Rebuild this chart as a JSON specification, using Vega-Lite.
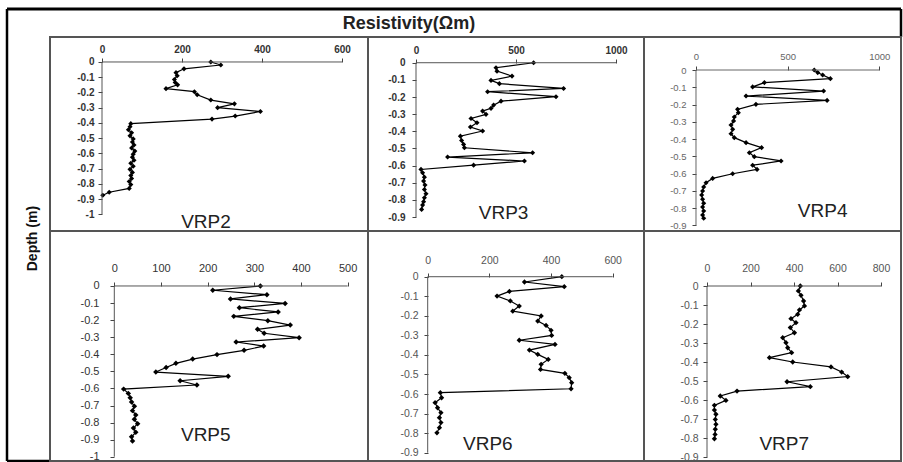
{
  "$schema": "https://vega.github.io/schema/vega-lite/v6.json",
  "padding": {"left": 5, "top": 7, "right": 2, "bottom": 1},
  "background": "white",
  "columns": 4,
  "spacing": 0,
  "bounds": "flush",
  "align": "each",
  "config": {
    "view": {"stroke": "#555", "strokeWidth": 2},
    "font": "Liberation Sans",
    "axis": {"domain": false, "grid": false, "title": null, "tickColor": "#444", "tickSize": 4, "tickCount": 20, "labelFont": "Liberation Sans", "labelOverlap": false, "labelFlush": false, "labelBound": false, "labelExpr": "toString(datum.value)"}
  },
  "datasets": {
    "v2": [
      {"d": 0, "r": 272}, {"d": -0.02, "r": 297}, {"d": -0.045, "r": 205}, {"d": -0.07, "r": 185}, {"d": -0.09, "r": 188},
      {"d": -0.115, "r": 181}, {"d": -0.135, "r": 183}, {"d": -0.15, "r": 189}, {"d": -0.175, "r": 160}, {"d": -0.195, "r": 231},
      {"d": -0.215, "r": 238}, {"d": -0.25, "r": 272}, {"d": -0.275, "r": 331}, {"d": -0.3, "r": 289}, {"d": -0.325, "r": 396},
      {"d": -0.355, "r": 333}, {"d": -0.375, "r": 275}, {"d": -0.405, "r": 72}, {"d": -0.425, "r": 70}, {"d": -0.445, "r": 66},
      {"d": -0.465, "r": 74}, {"d": -0.485, "r": 70}, {"d": -0.505, "r": 78}, {"d": -0.525, "r": 76}, {"d": -0.545, "r": 80},
      {"d": -0.565, "r": 74}, {"d": -0.585, "r": 82}, {"d": -0.605, "r": 78}, {"d": -0.625, "r": 76}, {"d": -0.645, "r": 80},
      {"d": -0.665, "r": 72}, {"d": -0.685, "r": 78}, {"d": -0.705, "r": 70}, {"d": -0.725, "r": 76}, {"d": -0.745, "r": 72},
      {"d": -0.765, "r": 74}, {"d": -0.785, "r": 68}, {"d": -0.805, "r": 72}, {"d": -0.83, "r": 68}, {"d": -0.855, "r": 18},
      {"d": -0.875, "r": 2}
    ],
    "v3": [
      {"d": 0, "r": 588}, {"d": -0.029, "r": 400}, {"d": -0.049, "r": 405}, {"d": -0.078, "r": 480}, {"d": -0.103, "r": 375},
      {"d": -0.122, "r": 417}, {"d": -0.15, "r": 738}, {"d": -0.169, "r": 358}, {"d": -0.198, "r": 700}, {"d": -0.224, "r": 425},
      {"d": -0.247, "r": 388}, {"d": -0.266, "r": 375}, {"d": -0.282, "r": 333}, {"d": -0.301, "r": 350}, {"d": -0.325, "r": 275},
      {"d": -0.35, "r": 305}, {"d": -0.375, "r": 272}, {"d": -0.398, "r": 333}, {"d": -0.428, "r": 222}, {"d": -0.453, "r": 228},
      {"d": -0.476, "r": 238}, {"d": -0.496, "r": 242}, {"d": -0.525, "r": 583}, {"d": -0.55, "r": 158}, {"d": -0.573, "r": 542},
      {"d": -0.597, "r": 288}, {"d": -0.622, "r": 25}, {"d": -0.641, "r": 33}, {"d": -0.667, "r": 42}, {"d": -0.69, "r": 38},
      {"d": -0.713, "r": 45}, {"d": -0.739, "r": 42}, {"d": -0.764, "r": 50}, {"d": -0.787, "r": 42}, {"d": -0.81, "r": 38},
      {"d": -0.83, "r": 33}, {"d": -0.855, "r": 28}
    ],
    "v4": [
      {"d": 0, "r": 645}, {"d": -0.015, "r": 664}, {"d": -0.029, "r": 691}, {"d": -0.05, "r": 733}, {"d": -0.073, "r": 373},
      {"d": -0.098, "r": 309}, {"d": -0.122, "r": 696}, {"d": -0.151, "r": 273}, {"d": -0.176, "r": 715}, {"d": -0.199, "r": 327},
      {"d": -0.228, "r": 227}, {"d": -0.247, "r": 231}, {"d": -0.272, "r": 209}, {"d": -0.295, "r": 205}, {"d": -0.319, "r": 191},
      {"d": -0.344, "r": 200}, {"d": -0.369, "r": 191}, {"d": -0.392, "r": 209}, {"d": -0.421, "r": 273}, {"d": -0.45, "r": 358},
      {"d": -0.479, "r": 291}, {"d": -0.502, "r": 318}, {"d": -0.527, "r": 464}, {"d": -0.552, "r": 309}, {"d": -0.576, "r": 333},
      {"d": -0.601, "r": 200}, {"d": -0.628, "r": 91}, {"d": -0.653, "r": 55}, {"d": -0.678, "r": 42}, {"d": -0.701, "r": 36},
      {"d": -0.724, "r": 31}, {"d": -0.749, "r": 36}, {"d": -0.772, "r": 42}, {"d": -0.794, "r": 36}, {"d": -0.817, "r": 42},
      {"d": -0.84, "r": 36}, {"d": -0.859, "r": 42}
    ],
    "v5": [
      {"d": 0, "r": 313}, {"d": -0.025, "r": 211}, {"d": -0.051, "r": 327}, {"d": -0.076, "r": 249}, {"d": -0.102, "r": 366},
      {"d": -0.127, "r": 268}, {"d": -0.152, "r": 351}, {"d": -0.178, "r": 256}, {"d": -0.203, "r": 329}, {"d": -0.229, "r": 377},
      {"d": -0.254, "r": 307}, {"d": -0.277, "r": 321}, {"d": -0.303, "r": 396}, {"d": -0.328, "r": 261}, {"d": -0.352, "r": 320},
      {"d": -0.377, "r": 278}, {"d": -0.402, "r": 220}, {"d": -0.428, "r": 168}, {"d": -0.453, "r": 132}, {"d": -0.477, "r": 111},
      {"d": -0.504, "r": 89}, {"d": -0.529, "r": 244}, {"d": -0.555, "r": 141}, {"d": -0.58, "r": 177}, {"d": -0.604, "r": 20},
      {"d": -0.629, "r": 30}, {"d": -0.654, "r": 34}, {"d": -0.68, "r": 37}, {"d": -0.705, "r": 43}, {"d": -0.73, "r": 39},
      {"d": -0.756, "r": 46}, {"d": -0.781, "r": 43}, {"d": -0.807, "r": 50}, {"d": -0.832, "r": 41}, {"d": -0.857, "r": 46},
      {"d": -0.883, "r": 37}, {"d": -0.908, "r": 39}
    ],
    "v6": [
      {"d": 0, "r": 435}, {"d": -0.027, "r": 314}, {"d": -0.051, "r": 443}, {"d": -0.075, "r": 265}, {"d": -0.099, "r": 225},
      {"d": -0.124, "r": 268}, {"d": -0.15, "r": 297}, {"d": -0.176, "r": 276}, {"d": -0.201, "r": 368}, {"d": -0.227, "r": 357},
      {"d": -0.249, "r": 384}, {"d": -0.274, "r": 400}, {"d": -0.3, "r": 402}, {"d": -0.325, "r": 297}, {"d": -0.346, "r": 413},
      {"d": -0.375, "r": 330}, {"d": -0.397, "r": 357}, {"d": -0.423, "r": 391}, {"d": -0.448, "r": 368}, {"d": -0.474, "r": 366},
      {"d": -0.494, "r": 445}, {"d": -0.516, "r": 459}, {"d": -0.542, "r": 467}, {"d": -0.573, "r": 465}, {"d": -0.593, "r": 41},
      {"d": -0.619, "r": 45}, {"d": -0.644, "r": 24}, {"d": -0.67, "r": 32}, {"d": -0.695, "r": 43}, {"d": -0.721, "r": 38},
      {"d": -0.746, "r": 43}, {"d": -0.772, "r": 38}, {"d": -0.798, "r": 30}
    ],
    "v7": [
      {"d": 0, "r": 429}, {"d": -0.026, "r": 420}, {"d": -0.049, "r": 432}, {"d": -0.079, "r": 444}, {"d": -0.105, "r": 448},
      {"d": -0.126, "r": 425}, {"d": -0.149, "r": 417}, {"d": -0.172, "r": 386}, {"d": -0.193, "r": 409}, {"d": -0.219, "r": 383},
      {"d": -0.246, "r": 402}, {"d": -0.272, "r": 348}, {"d": -0.298, "r": 363}, {"d": -0.325, "r": 371}, {"d": -0.351, "r": 389},
      {"d": -0.377, "r": 287}, {"d": -0.4, "r": 394}, {"d": -0.426, "r": 570}, {"d": -0.453, "r": 619}, {"d": -0.477, "r": 647},
      {"d": -0.504, "r": 368}, {"d": -0.53, "r": 475}, {"d": -0.553, "r": 138}, {"d": -0.579, "r": 61}, {"d": -0.602, "r": 87},
      {"d": -0.628, "r": 34}, {"d": -0.653, "r": 34}, {"d": -0.675, "r": 41}, {"d": -0.702, "r": 38}, {"d": -0.728, "r": 41},
      {"d": -0.754, "r": 38}, {"d": -0.781, "r": 37}, {"d": -0.804, "r": 34}
    ]
  },
  "concat": [
    {
      "width": 43, "height": 28, "view": {"stroke": null}, "data": {"values": [{}]},
      "layer": [
        {"mark": {"type": "rule", "color": "black", "strokeWidth": 2.5}, "encoding": {"x": {"datum": 0, "type": "quantitative", "scale": {"domain": [0, 1]}, "axis": null}, "y": {"datum": 0, "type": "quantitative", "scale": {"domain": [0, 1]}, "axis": null}, "y2": {"datum": 1}}},
        {"mark": {"type": "rule", "color": "black", "strokeWidth": 3}, "encoding": {"x": {"datum": 0, "type": "quantitative", "scale": {"domain": [0, 1]}, "axis": null}, "x2": {"datum": 1}, "y": {"datum": 1, "type": "quantitative", "scale": {"domain": [0, 1]}, "axis": null}}}
      ]
    },
    {
      "width": 318, "height": 28, "view": {"stroke": null}, "data": {"values": [{}]},
      "mark": {"type": "rule", "color": "black", "strokeWidth": 3},
      "encoding": {"x": {"datum": 0, "type": "quantitative", "scale": {"domain": [0, 1]}, "axis": null}, "x2": {"datum": 1}, "y": {"datum": 1, "type": "quantitative", "scale": {"domain": [0, 1]}, "axis": null}}
    },
    {
      "width": 276, "height": 28, "view": {"stroke": null},
      "layer": [
        {"data": {"values": [{}]}, "mark": {"type": "rule", "color": "black", "strokeWidth": 3}, "encoding": {"x": {"datum": 0, "type": "quantitative", "scale": {"domain": [0, 1]}, "axis": null}, "x2": {"datum": 1}, "y": {"datum": 1, "type": "quantitative", "scale": {"domain": [0, 1]}, "axis": null}}},
        {"data": {"values": [{"t": "Resistivity(Ωm)"}]}, "mark": {"type": "text", "fontSize": 18, "fontWeight": "bold", "font": "Liberation Sans", "color": "#222"}, "encoding": {"x": {"datum": 0.1486, "type": "quantitative", "scale": {"domain": [0, 1]}, "axis": null}, "y": {"datum": 0.45, "type": "quantitative", "scale": {"domain": [0, 1]}, "axis": null}, "text": {"field": "t"}}}
      ]
    },
    {
      "width": 257, "height": 28, "view": {"stroke": null}, "data": {"values": [{}]},
      "layer": [
        {"mark": {"type": "rule", "color": "black", "strokeWidth": 3}, "encoding": {"x": {"datum": 0, "type": "quantitative", "scale": {"domain": [0, 1]}, "axis": null}, "x2": {"datum": 1}, "y": {"datum": 1, "type": "quantitative", "scale": {"domain": [0, 1]}, "axis": null}}},
        {"mark": {"type": "rule", "color": "black", "strokeWidth": 2.5}, "encoding": {"x": {"datum": 1, "type": "quantitative", "scale": {"domain": [0, 1]}, "axis": null}, "y": {"datum": 0, "type": "quantitative", "scale": {"domain": [0, 1]}, "axis": null}, "y2": {"datum": 1}}}
      ]
    },
    {
      "width": 43, "height": 194, "view": {"stroke": null}, "data": {"values": [{}]},
      "mark": {"type": "rule", "color": "black", "strokeWidth": 2.5},
      "encoding": {"x": {"datum": 0, "type": "quantitative", "scale": {"domain": [0, 1]}, "axis": null}, "y": {"datum": 0, "type": "quantitative", "scale": {"domain": [0, 1]}, "axis": null}, "y2": {"datum": 1}}
    },
    {
      "width": 318, "height": 194,
      "layer": [
        {
          "data": {"name": "v2"},
          "mark": {"type": "line", "color": "black", "strokeWidth": 1.2, "point": {"shape": "diamond", "filled": true, "size": 26, "color": "black"}},
          "encoding": {
            "x": {"field": "r", "type": "quantitative", "scale": {"domain": [-130, 665], "nice": false, "zero": false},
              "axis": {"orient": "top", "values": [0, 200, 400, 600], "tickCount": 20, "offset": -25, "labelPadding": 4, "labelFontSize": 10, "labelFontWeight": "bold", "labelColor": "#333", "labelOverlap": false}},
            "y": {"field": "d", "type": "quantitative", "scale": {"domain": [-1.1097, 0.164], "nice": false, "zero": false},
              "axis": {"orient": "left", "values": [0, -0.1, -0.2, -0.3, -0.4, -0.5, -0.6, -0.7, -0.8, -0.9, -1], "tickCount": 20, "offset": -52, "labelPadding": 4, "labelFontSize": 10, "labelFontWeight": "bold", "labelColor": "#333", "labelOverlap": false}},
            "order": {"field": "d", "sort": "descending"}
          }
        },
        {"data": {"values": [{}]}, "mark": {"type": "rule", "color": "#555", "strokeWidth": 1}, "encoding": {"x": {"datum": 0, "type": "quantitative"}, "x2": {"datum": 600}, "y": {"datum": 0, "type": "quantitative"}}},
        {"data": {"values": [{}]}, "mark": {"type": "rule", "color": "#555", "strokeWidth": 1}, "encoding": {"x": {"datum": 0, "type": "quantitative"}, "y": {"datum": 0, "type": "quantitative"}, "y2": {"datum": -1}}},
        {"data": {"values": [{"t": "VRP2"}]}, "mark": {"type": "text", "fontSize": 19, "color": "#222", "font": "Liberation Sans"}, "encoding": {"x": {"datum": 260, "type": "quantitative"}, "y": {"datum": -1.05, "type": "quantitative"}, "text": {"field": "t"}}}
      ]
    },
    {
      "width": 276, "height": 194,
      "layer": [
        {
          "data": {"name": "v3"},
          "mark": {"type": "line", "color": "black", "strokeWidth": 1.2, "point": {"shape": "diamond", "filled": true, "size": 26, "color": "black"}},
          "encoding": {
            "x": {"field": "r", "type": "quantitative", "scale": {"domain": [-240, 1140], "nice": false, "zero": false},
              "axis": {"orient": "top", "values": [0, 500, 1000], "tickCount": 20, "offset": -26, "labelPadding": 4, "labelFontSize": 10, "labelFontWeight": "bold", "labelColor": "#333", "labelOverlap": false}},
            "y": {"field": "d", "type": "quantitative", "scale": {"domain": [-0.981, 0.15], "nice": false, "zero": false},
              "axis": {"orient": "left", "values": [0, -0.1, -0.2, -0.3, -0.4, -0.5, -0.6, -0.7, -0.8, -0.9], "tickCount": 20, "offset": -48, "labelPadding": 7, "labelFontSize": 10, "labelFontWeight": "bold", "labelColor": "#333", "labelOverlap": false}},
            "order": {"field": "d", "sort": "descending"}
          }
        },
        {"data": {"values": [{}]}, "mark": {"type": "rule", "color": "#555", "strokeWidth": 1}, "encoding": {"x": {"datum": 0, "type": "quantitative"}, "x2": {"datum": 1000}, "y": {"datum": 0, "type": "quantitative"}}},
        {"data": {"values": [{}]}, "mark": {"type": "rule", "color": "#555", "strokeWidth": 1}, "encoding": {"x": {"datum": 0, "type": "quantitative"}, "y": {"datum": 0, "type": "quantitative"}, "y2": {"datum": -0.9}}},
        {"data": {"values": [{"t": "VRP3"}]}, "mark": {"type": "text", "fontSize": 19, "color": "#222", "font": "Liberation Sans"}, "encoding": {"x": {"datum": 438, "type": "quantitative"}, "y": {"datum": -0.875, "type": "quantitative"}, "text": {"field": "t"}}}
      ]
    },
    {
      "width": 257, "height": 194,
      "layer": [
        {
          "data": {"name": "v4"},
          "mark": {"type": "line", "color": "black", "strokeWidth": 1.2, "point": {"shape": "diamond", "filled": true, "size": 26, "color": "black"}},
          "encoding": {
            "x": {"field": "r", "type": "quantitative", "scale": {"domain": [-283.6, 1118.2], "nice": false, "zero": false},
              "axis": {"orient": "top", "values": [0, 500, 1000], "tickCount": 20, "offset": -33, "labelPadding": 5, "labelFontSize": 9.5, "labelColor": "#666", "labelOverlap": false}},
            "y": {"field": "d", "type": "quantitative", "scale": {"domain": [-0.9328, 0.1912], "nice": false, "zero": false},
              "axis": {"orient": "left", "values": [0, -0.1, -0.2, -0.3, -0.4, -0.5, -0.6, -0.7, -0.8, -0.9], "tickCount": 20, "offset": -52, "labelPadding": 6, "labelFontSize": 9.5, "labelColor": "#666", "labelOverlap": false}},
            "order": {"field": "d", "sort": "descending"}
          }
        },
        {"data": {"values": [{}]}, "mark": {"type": "rule", "color": "#666", "strokeWidth": 1}, "encoding": {"x": {"datum": 0, "type": "quantitative"}, "x2": {"datum": 1000}, "y": {"datum": 0, "type": "quantitative"}}},
        {"data": {"values": [{}]}, "mark": {"type": "rule", "color": "#666", "strokeWidth": 1}, "encoding": {"x": {"datum": 0, "type": "quantitative"}, "y": {"datum": 0, "type": "quantitative"}, "y2": {"datum": -0.9}}},
        {"data": {"values": [{"t": "VRP4"}]}, "mark": {"type": "text", "fontSize": 19, "color": "#222", "font": "Liberation Sans"}, "encoding": {"x": {"datum": 691, "type": "quantitative"}, "y": {"datum": -0.817, "type": "quantitative"}, "text": {"field": "t"}}}
      ]
    },
    {
      "width": 43, "height": 230, "view": {"stroke": null},
      "layer": [
        {"data": {"values": [{}]}, "mark": {"type": "rule", "color": "black", "strokeWidth": 2.5}, "encoding": {"x": {"datum": 0, "type": "quantitative", "scale": {"domain": [0, 1]}, "axis": null}, "y": {"datum": 0, "type": "quantitative", "scale": {"domain": [0, 1]}, "axis": null}, "y2": {"datum": 1}}},
        {"data": {"values": [{}]}, "mark": {"type": "rule", "color": "black", "strokeWidth": 2.5}, "encoding": {"x": {"datum": 0, "type": "quantitative", "scale": {"domain": [0, 1]}, "axis": null}, "x2": {"datum": 1}, "y": {"datum": 0, "type": "quantitative", "scale": {"domain": [0, 1]}, "axis": null}}},
        {"data": {"values": [{"t": "Depth (m)"}]}, "mark": {"type": "text", "angle": 270, "fontSize": 14, "fontWeight": "bold", "font": "Liberation Sans", "color": "#111"}, "encoding": {"x": {"datum": 0.605, "type": "quantitative", "scale": {"domain": [0, 1]}, "axis": null}, "y": {"datum": 0.967, "type": "quantitative", "scale": {"domain": [0, 1]}, "axis": null}, "text": {"field": "t"}}}
      ]
    },
    {
      "width": 318, "height": 230,
      "layer": [
        {
          "data": {"name": "v5"},
          "mark": {"type": "line", "color": "black", "strokeWidth": 1.2, "point": {"shape": "diamond", "filled": true, "size": 30, "color": "black"}},
          "encoding": {
            "x": {"field": "r", "type": "quantitative", "scale": {"domain": [-137.8, 543.6], "nice": false, "zero": false},
              "axis": {"orient": "top", "values": [0, 100, 200, 300, 400, 500], "tickCount": 20, "offset": -55, "labelPadding": 9, "labelFontSize": 11, "labelColor": "#333", "labelOverlap": false}},
            "y": {"field": "d", "type": "quantitative", "scale": {"domain": [-1.025, 0.322], "nice": false, "zero": false},
              "axis": {"orient": "left", "values": [0, -0.1, -0.2, -0.3, -0.4, -0.5, -0.6, -0.7, -0.8, -0.9, -1], "tickCount": 20, "offset": -64, "labelPadding": 11, "labelFontSize": 11, "labelColor": "#333", "labelOverlap": false}},
            "order": {"field": "d", "sort": "descending"}
          }
        },
        {"data": {"values": [{}]}, "mark": {"type": "rule", "color": "#555", "strokeWidth": 1}, "encoding": {"x": {"datum": 0, "type": "quantitative"}, "x2": {"datum": 500}, "y": {"datum": 0, "type": "quantitative"}}},
        {"data": {"values": [{}]}, "mark": {"type": "rule", "color": "#555", "strokeWidth": 1}, "encoding": {"x": {"datum": 0, "type": "quantitative"}, "y": {"datum": 0, "type": "quantitative"}, "y2": {"datum": -1}}},
        {"data": {"values": [{"t": "VRP5"}]}, "mark": {"type": "text", "fontSize": 19, "color": "#222", "font": "Liberation Sans"}, "encoding": {"x": {"datum": 196, "type": "quantitative"}, "y": {"datum": -0.873, "type": "quantitative"}, "text": {"field": "t"}}}
      ]
    },
    {
      "width": 276, "height": 230,
      "layer": [
        {
          "data": {"name": "v6"},
          "mark": {"type": "line", "color": "black", "strokeWidth": 1.2, "point": {"shape": "diamond", "filled": true, "size": 28, "color": "black"}},
          "encoding": {
            "x": {"field": "r", "type": "quantitative", "scale": {"domain": [-193.6, 701.6], "nice": false, "zero": false},
              "axis": {"orient": "top", "values": [0, 200, 400, 600], "tickCount": 20, "offset": -46, "labelPadding": 8, "labelFontSize": 10.5, "labelColor": "#555", "labelOverlap": false}},
            "y": {"field": "d", "type": "quantitative", "scale": {"domain": [-0.9423, 0.2337], "nice": false, "zero": false},
              "axis": {"orient": "left", "values": [0, -0.1, -0.2, -0.3, -0.4, -0.5, -0.6, -0.7, -0.8, -0.9], "tickCount": 20, "offset": -60, "labelPadding": 6, "labelFontSize": 10.5, "labelColor": "#555", "labelOverlap": false}},
            "order": {"field": "d", "sort": "descending"}
          }
        },
        {"data": {"values": [{}]}, "mark": {"type": "rule", "color": "#555", "strokeWidth": 1}, "encoding": {"x": {"datum": 0, "type": "quantitative"}, "x2": {"datum": 600}, "y": {"datum": 0, "type": "quantitative"}}},
        {"data": {"values": [{}]}, "mark": {"type": "rule", "color": "#555", "strokeWidth": 1}, "encoding": {"x": {"datum": 0, "type": "quantitative"}, "y": {"datum": 0, "type": "quantitative"}, "y2": {"datum": -0.9}}},
        {"data": {"values": [{"t": "VRP6"}]}, "mark": {"type": "text", "fontSize": 19, "color": "#222", "font": "Liberation Sans"}, "encoding": {"x": {"datum": 195, "type": "quantitative"}, "y": {"datum": -0.857, "type": "quantitative"}, "text": {"field": "t"}}}
      ]
    },
    {
      "width": 257, "height": 230,
      "layer": [
        {
          "data": {"name": "v7"},
          "mark": {"type": "line", "color": "black", "strokeWidth": 1.2, "point": {"shape": "diamond", "filled": true, "size": 28, "color": "black"}},
          "encoding": {
            "x": {"field": "r", "type": "quantitative", "scale": {"domain": [-289.7, 891.9], "nice": false, "zero": false},
              "axis": {"orient": "top", "values": [0, 200, 400, 600, 800], "tickCount": 20, "offset": -55, "labelPadding": 9, "labelFontSize": 10.5, "labelColor": "#555", "labelOverlap": false}},
            "y": {"field": "d", "type": "quantitative", "scale": {"domain": [-0.921, 0.2895], "nice": false, "zero": false},
              "axis": {"orient": "left", "values": [0, -0.1, -0.2, -0.3, -0.4, -0.5, -0.6, -0.7, -0.8, -0.9], "tickCount": 20, "offset": -63, "labelPadding": 5, "labelFontSize": 10.5, "labelColor": "#555", "labelOverlap": false}},
            "order": {"field": "d", "sort": "descending"}
          }
        },
        {"data": {"values": [{}]}, "mark": {"type": "rule", "color": "#555", "strokeWidth": 1}, "encoding": {"x": {"datum": 0, "type": "quantitative"}, "x2": {"datum": 800}, "y": {"datum": 0, "type": "quantitative"}}},
        {"data": {"values": [{}]}, "mark": {"type": "rule", "color": "#555", "strokeWidth": 1}, "encoding": {"x": {"datum": 0, "type": "quantitative"}, "y": {"datum": 0, "type": "quantitative"}, "y2": {"datum": -0.9}}},
        {"data": {"values": [{"t": "VRP7"}]}, "mark": {"type": "text", "fontSize": 19, "color": "#222", "font": "Liberation Sans"}, "encoding": {"x": {"datum": 355, "type": "quantitative"}, "y": {"datum": -0.833, "type": "quantitative"}, "text": {"field": "t"}}}
      ]
    }
  ]
}
